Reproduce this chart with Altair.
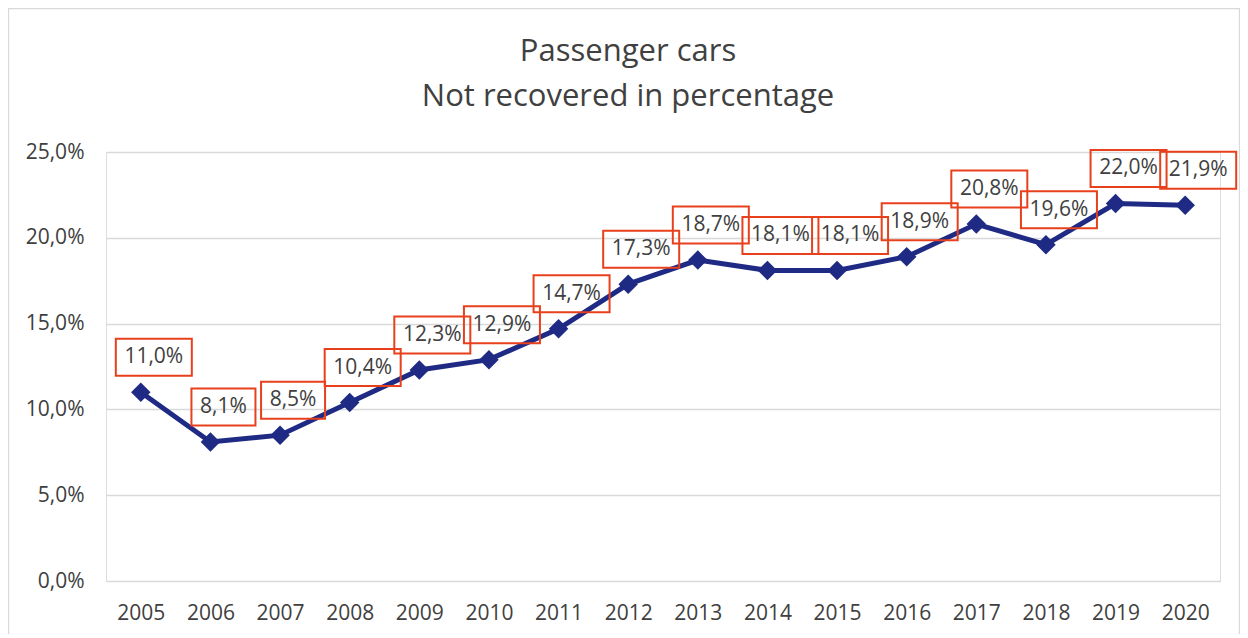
import altair as alt
import pandas as pd

years = [str(y) for y in range(2005, 2021)]
values = [11.0, 8.1, 8.5, 10.4, 12.3, 12.9, 14.7, 17.3, 18.7, 18.1, 18.1, 18.9, 20.8, 19.6, 22.0, 21.9]
title_lines = ["Passenger cars", "Not recovered in percentage"]
y_ticks = [0, 5, 10, 15, 20, 25]

df = pd.DataFrame({"year": years, "value": values})

FONT = "Open Sans"
NAVY = "#1F2A84"
RED = "#E8401C"
TXT = "#404040"

x_enc = alt.X(
    "year:O",
    scale=alt.Scale(type="point", padding=0.5),
    axis=alt.Axis(
        title=None, labelAngle=0, labelFontSize=21, labelColor=TXT, labelFont=FONT,
        labelPadding=21, ticks=False, domain=False, grid=False,
    ),
)
y_enc = alt.Y(
    "value:Q",
    scale=alt.Scale(domain=[0, 25], nice=False),
    axis=alt.Axis(
        title=None, values=y_ticks, labelFontSize=21, labelColor=TXT, labelFont=FONT,
        labelPadding=22, ticks=False, domain=False, grid=True, gridColor="#d9d9d9",
        gridWidth=1.3,
        labelExpr="replace(format(datum.value, '.1f'), '.', ',') + '%'",
    ),
)

base = alt.Chart(df).transform_calculate(
    label="replace(format(datum.value, '.1f'), '.', ',') + '%'",
    nchar="length(replace(format(datum.value, '.1f'), '.', ',') + '%')",
)

frame = alt.Chart(alt.Data(values=[{}])).mark_rect(
    fillOpacity=0, stroke="#d9d9d9", strokeWidth=1.3
).encode(
    x=alt.value(-97.5), x2=alt.value(1133.5), y=alt.value(-143.5), y2=alt.value(500)
)

line = base.mark_line(color=NAVY, strokeWidth=5).encode(x=x_enc, y=y_enc)
points = base.mark_point(shape="diamond", filled=True, size=380, color=NAVY, opacity=1).encode(
    x=x_enc, y=y_enc
)

DX, DY = 13, -35
box_long = base.transform_filter("datum.nchar >= 5").mark_rect(
    width=76, height=37, xOffset=DX, yOffset=DY, fillOpacity=0, stroke=RED, strokeWidth=2
).encode(x=x_enc, y=y_enc)
box_short = base.transform_filter("datum.nchar < 5").mark_rect(
    width=64, height=37, xOffset=DX, yOffset=DY, fillOpacity=0, stroke=RED, strokeWidth=2
).encode(x=x_enc, y=y_enc)
labels = base.mark_text(
    dx=DX, dy=DY, fontSize=21, font=FONT, color=TXT, align="center", baseline="middle"
).encode(x=x_enc, y=y_enc, text="label:N")

title_df = pd.DataFrame({"line": title_lines, "row": [0, 1]})
title1 = alt.Chart(title_df).transform_filter("datum.row == 0").mark_text(
    fontSize=31, font=FONT, color=TXT, align="center", baseline="middle"
).encode(x=alt.value(522), y=alt.value(-100), text="line:N")
title2 = alt.Chart(title_df).transform_filter("datum.row == 1").mark_text(
    fontSize=31, font=FONT, color=TXT, align="center", baseline="middle"
).encode(x=alt.value(522), y=alt.value(-55), text="line:N")

chart = alt.layer(
    frame, line, points, box_long, box_short, labels, title1, title2
).properties(
    width=1114, height=429,
    autosize=alt.AutoSizeParams(type="none"),
    padding={"left": 98, "top": 144, "right": 20, "bottom": 53},
).configure_view(stroke=None).configure(font=FONT)

chart.save("out.html", embed_options={"renderer": "svg", "actions": False})
